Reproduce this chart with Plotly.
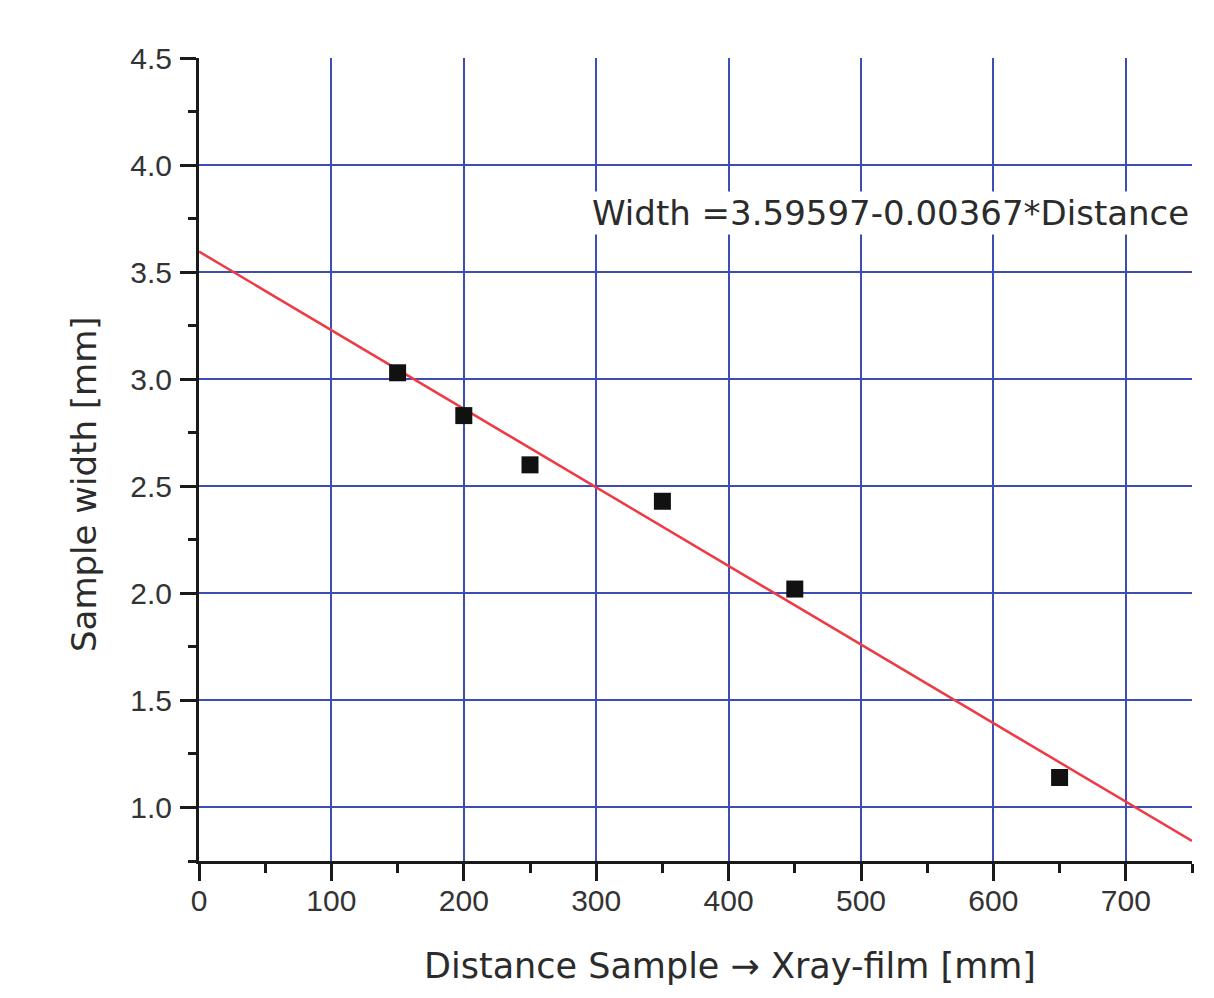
import numpy as np
import plotly.graph_objects as go

# Measured sample widths vs. sample-to-film distance
distance_mm = [150, 200, 250, 350, 450, 650]
width_mm = [3.03, 2.83, 2.60, 2.43, 2.02, 1.14]

# Linear fit parameters
fit_intercept = 3.59597
fit_slope = -0.00367
fit_x_span = [0, 750]

x_major_ticks = [0, 100, 200, 300, 400, 500, 600, 700]
y_major_ticks = [1.0, 1.5, 2.0, 2.5, 3.0, 3.5, 4.0, 4.5]
y_grid_vals = [1.0, 1.5, 2.0, 2.5, 3.0, 3.5, 4.0]

fit_x = np.array(fit_x_span, dtype=float)
fit_y = fit_intercept + fit_slope * fit_x

text_color = "#2b2b2b"
tick_font = dict(family="Liberation Sans, Arial", size=30, color="#333333")
grid_color = "rgb(62,76,182)"

fig = go.Figure()

fig.add_trace(go.Scatter(
    x=fit_x, y=fit_y, mode="lines",
    line=dict(color="rgb(238,58,68)", width=2.5),
    showlegend=False, hoverinfo="skip",
))
fig.add_trace(go.Scatter(
    x=distance_mm, y=width_mm, mode="markers",
    marker=dict(symbol="square", size=17, color="#111111"),
    showlegend=False,
))

# Invisible overlay axis that carries the horizontal grid lines only
fig.add_trace(go.Scatter(x=[None], y=[None], yaxis="y2", showlegend=False))

fig.update_layout(
    width=1214, height=998,
    margin=dict(l=199, r=22, t=58, b=137),
    paper_bgcolor="white", plot_bgcolor="white",
    xaxis=dict(
        range=[0, 750], tickvals=x_major_ticks,
        showline=True, linecolor="#1a1a1a", linewidth=3,
        ticks="outside", ticklen=17, tickwidth=3, tickcolor="#1a1a1a",
        minor=dict(dtick=50, tick0=0, ticks="outside", ticklen=9,
                   tickwidth=3, tickcolor="#1a1a1a", showgrid=False),
        showgrid=True, gridcolor=grid_color, gridwidth=2,
        zeroline=False, tickfont=tick_font, ticklabelstandoff=-6,
    ),
    yaxis=dict(
        range=[0.75, 4.5], tickvals=y_major_ticks, tickformat=".1f",
        showline=True, linecolor="#1a1a1a", linewidth=3,
        ticks="outside", ticklen=16, tickwidth=3, tickcolor="#1a1a1a",
        minor=dict(dtick=0.25, tick0=0, ticks="outside", ticklen=8,
                   tickwidth=3, tickcolor="#1a1a1a", showgrid=False),
        showgrid=False, zeroline=False, tickfont=tick_font,
        ticklabelstandoff=2,
    ),
    yaxis2=dict(
        overlaying="y", anchor="x", side="left",
        range=[0.75, 4.5], tickvals=y_grid_vals,
        showgrid=True, gridcolor=grid_color, gridwidth=2,
        showticklabels=False, ticks="", showline=False, zeroline=False,
    ),
    annotations=[
        dict(text="Width =3.59597-0.00367*Distance",
             x=749, y=3.776, xref="x", yref="y",
             xanchor="right", yanchor="middle", showarrow=False,
             font=dict(family="DejaVu Sans", size=34, color=text_color),
             bgcolor="white"),
        dict(text="Distance Sample \u2192 Xray-film [mm]",
             x=0.5347, y=-0.131, xref="paper", yref="paper",
             xanchor="center", yanchor="middle", showarrow=False,
             font=dict(family="DejaVu Sans", size=35, color=text_color)),
        dict(text="Sample width [mm]", textangle=-90,
             x=-0.1158, y=0.4695, xref="paper", yref="paper",
             xanchor="center", yanchor="middle", showarrow=False,
             font=dict(family="DejaVu Sans", size=34, color=text_color)),
    ],
)

fig.write_html("out.html")
